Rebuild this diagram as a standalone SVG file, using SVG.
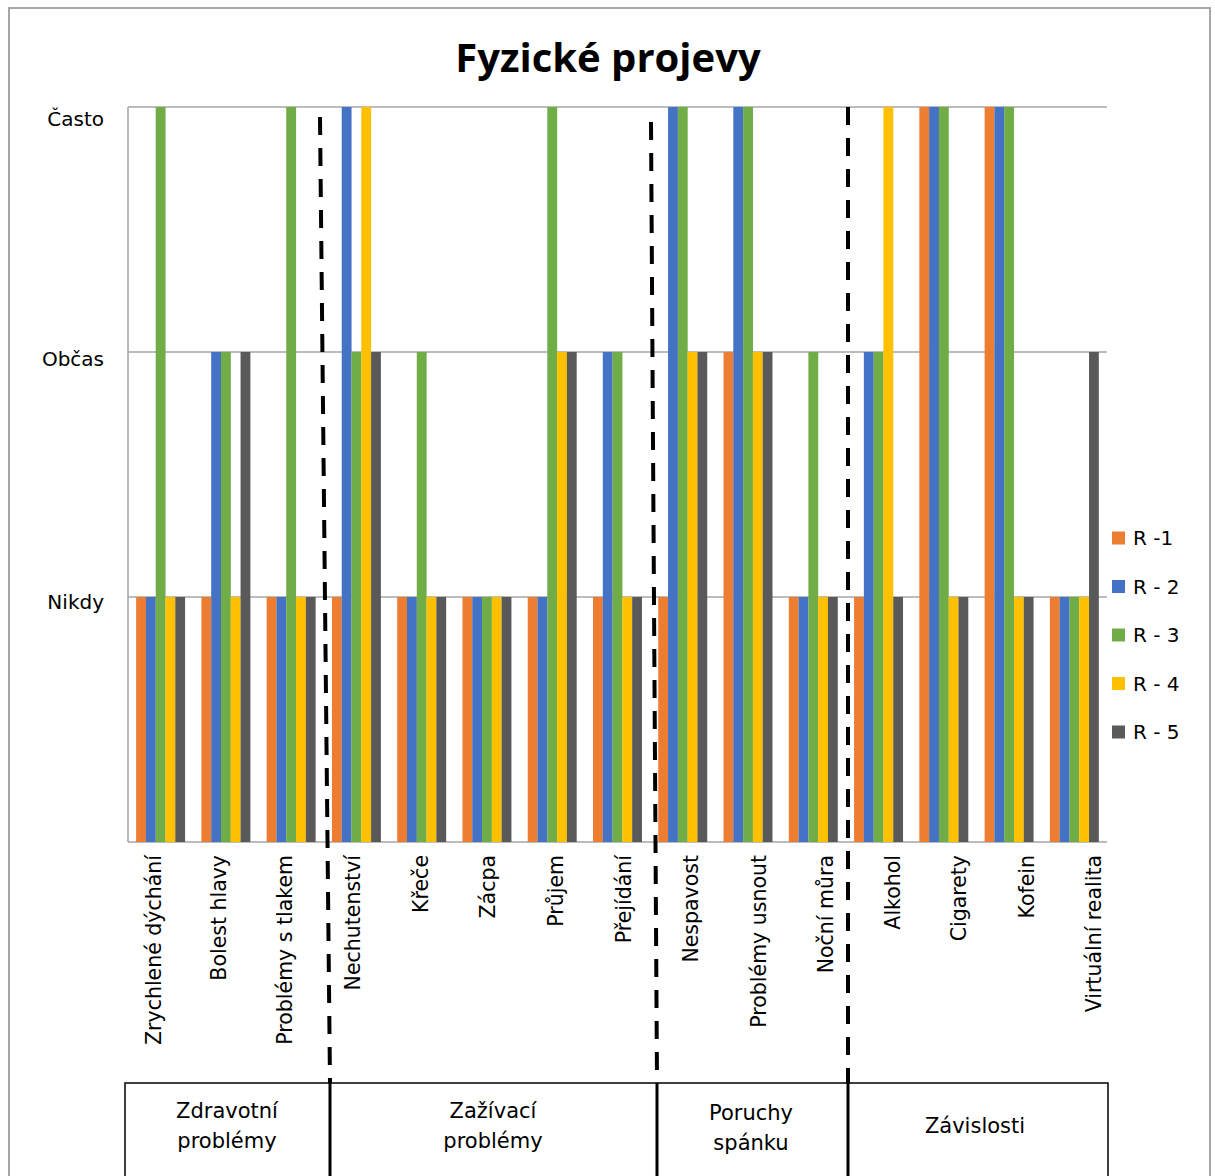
<svg xmlns="http://www.w3.org/2000/svg" width="1215" height="1176" viewBox="0 0 1215 1176">
  <style>
    .frame { fill: #ffffff; stroke: #a6a6a6; stroke-width: 2; }
    .grid { stroke: #a6a6a6; stroke-width: 1.6; fill: none; }
    .title { font-family: "Open Sans", "DejaVu Sans", sans-serif; font-weight: bold; font-size: 40px; fill: #000; }
    .lbl { font-family: "DejaVu Sans", "Liberation Sans", sans-serif; font-size: 20px; fill: #000; }
    .ylbl { font-family: "DejaVu Sans", "Liberation Sans", sans-serif; font-size: 20px; fill: #000; text-anchor: end; }
    .cat { font-family: "DejaVu Sans", "Liberation Sans", sans-serif; font-size: 20.5px; fill: #000; text-anchor: end; }
    .grp { font-family: "DejaVu Sans", "Liberation Sans", sans-serif; font-size: 21px; fill: #000; text-anchor: middle; }
    .r1 { fill: #ED7D31; }
    .r2 { fill: #4472C4; }
    .r3 { fill: #70AD47; }
    .r4 { fill: #FFC000; }
    .r5 { fill: #595959; }
    .sep { stroke: #000; stroke-width: 4; stroke-dasharray: 18 13; fill: none; }
    .box { fill: none; stroke: #000; stroke-width: 1.5; }
    .div { stroke: #000; stroke-width: 3; }
  </style>

  <rect class="frame" x="9" y="8" width="1201" height="1200"/>

  <text id="title" class="title" x="608" y="72" text-anchor="middle">Fyzické projevy</text>

  <!-- value axis labels -->
  <g id="value-axis">
    <text class="ylbl" x="104" y="126">Často</text>
    <text class="ylbl" x="104" y="366">Občas</text>
    <text class="ylbl" x="104" y="609">Nikdy</text>
  </g>

  <!-- gridlines and axes -->
  <g id="gridlines">
    <line class="grid" x1="128" y1="107" x2="1107" y2="107"/>
    <line class="grid" x1="128" y1="352" x2="1107" y2="352"/>
    <line class="grid" x1="128" y1="597" x2="1107" y2="597"/>
    <line class="grid" x1="128" y1="842" x2="1107" y2="842"/>
    <line class="grid" x1="128" y1="107" x2="128" y2="842"/>
  </g>

  <!-- bars: Nikdy = 597, Občas = 352, Často = 107, base 842 -->
  <g id="series-r1" class="r1">
    <rect x="136.13" y="597" width="9.85" height="245"/>
    <rect x="201.40" y="597" width="9.85" height="245"/>
    <rect x="266.66" y="597" width="9.85" height="245"/>
    <rect x="331.93" y="597" width="9.85" height="245"/>
    <rect x="397.20" y="597" width="9.85" height="245"/>
    <rect x="462.47" y="597" width="9.85" height="245"/>
    <rect x="527.73" y="597" width="9.85" height="245"/>
    <rect x="593.00" y="597" width="9.85" height="245"/>
    <rect x="658.27" y="597" width="9.85" height="245"/>
    <rect x="723.53" y="352" width="9.85" height="490"/>
    <rect x="788.80" y="597" width="9.85" height="245"/>
    <rect x="854.07" y="597" width="9.85" height="245"/>
    <rect x="919.33" y="107" width="9.85" height="735"/>
    <rect x="984.60" y="107" width="9.85" height="735"/>
    <rect x="1049.87" y="597" width="9.85" height="245"/>
  </g>
  <g id="series-r2" class="r2">
    <rect x="145.92" y="597" width="9.85" height="245"/>
    <rect x="211.19" y="352" width="9.85" height="490"/>
    <rect x="276.45" y="597" width="9.85" height="245"/>
    <rect x="341.72" y="107" width="9.85" height="735"/>
    <rect x="406.99" y="597" width="9.85" height="245"/>
    <rect x="472.26" y="597" width="9.85" height="245"/>
    <rect x="537.52" y="597" width="9.85" height="245"/>
    <rect x="602.79" y="352" width="9.85" height="490"/>
    <rect x="668.06" y="107" width="9.85" height="735"/>
    <rect x="733.32" y="107" width="9.85" height="735"/>
    <rect x="798.59" y="597" width="9.85" height="245"/>
    <rect x="863.86" y="352" width="9.85" height="490"/>
    <rect x="929.12" y="107" width="9.85" height="735"/>
    <rect x="994.39" y="107" width="9.85" height="735"/>
    <rect x="1059.66" y="597" width="9.85" height="245"/>
  </g>
  <g id="series-r3" class="r3">
    <rect x="155.71" y="107" width="9.85" height="735"/>
    <rect x="220.98" y="352" width="9.85" height="490"/>
    <rect x="286.24" y="107" width="9.85" height="735"/>
    <rect x="351.51" y="352" width="9.85" height="490"/>
    <rect x="416.78" y="352" width="9.85" height="490"/>
    <rect x="482.05" y="597" width="9.85" height="245"/>
    <rect x="547.31" y="107" width="9.85" height="735"/>
    <rect x="612.58" y="352" width="9.85" height="490"/>
    <rect x="677.85" y="107" width="9.85" height="735"/>
    <rect x="743.11" y="107" width="9.85" height="735"/>
    <rect x="808.38" y="352" width="9.85" height="490"/>
    <rect x="873.65" y="352" width="9.85" height="490"/>
    <rect x="938.91" y="107" width="9.85" height="735"/>
    <rect x="1004.18" y="107" width="9.85" height="735"/>
    <rect x="1069.45" y="597" width="9.85" height="245"/>
  </g>
  <g id="series-r4" class="r4">
    <rect x="165.50" y="597" width="9.85" height="245"/>
    <rect x="230.77" y="597" width="9.85" height="245"/>
    <rect x="296.03" y="597" width="9.85" height="245"/>
    <rect x="361.30" y="107" width="9.85" height="735"/>
    <rect x="426.57" y="597" width="9.85" height="245"/>
    <rect x="491.84" y="597" width="9.85" height="245"/>
    <rect x="557.10" y="352" width="9.85" height="490"/>
    <rect x="622.37" y="597" width="9.85" height="245"/>
    <rect x="687.64" y="352" width="9.85" height="490"/>
    <rect x="752.90" y="352" width="9.85" height="490"/>
    <rect x="818.17" y="597" width="9.85" height="245"/>
    <rect x="883.44" y="107" width="9.85" height="735"/>
    <rect x="948.70" y="597" width="9.85" height="245"/>
    <rect x="1013.97" y="597" width="9.85" height="245"/>
    <rect x="1079.24" y="597" width="9.85" height="245"/>
  </g>
  <g id="series-r5" class="r5">
    <rect x="175.29" y="597" width="9.8" height="245"/>
    <rect x="240.56" y="352" width="9.8" height="490"/>
    <rect x="305.82" y="597" width="9.8" height="245"/>
    <rect x="371.09" y="352" width="9.8" height="490"/>
    <rect x="436.36" y="597" width="9.8" height="245"/>
    <rect x="501.63" y="597" width="9.8" height="245"/>
    <rect x="566.89" y="352" width="9.8" height="490"/>
    <rect x="632.16" y="597" width="9.8" height="245"/>
    <rect x="697.43" y="352" width="9.8" height="490"/>
    <rect x="762.69" y="352" width="9.8" height="490"/>
    <rect x="827.96" y="597" width="9.8" height="245"/>
    <rect x="893.23" y="597" width="9.8" height="245"/>
    <rect x="958.49" y="597" width="9.8" height="245"/>
    <rect x="1023.76" y="597" width="9.8" height="245"/>
    <rect x="1089.03" y="352" width="9.8" height="490"/>
  </g>

  <!-- category labels, rotated, reading upwards -->
  <g id="category-labels">
    <text class="cat" transform="translate(161 855) rotate(-90)">Zrychlené dýchání</text>
    <text class="cat" transform="translate(226 855) rotate(-90)">Bolest hlavy</text>
    <text class="cat" transform="translate(292 855) rotate(-90)">Problémy s tlakem</text>
    <text class="cat" transform="translate(360 855) rotate(-90)">Nechutenství</text>
    <text class="cat" transform="translate(428 855) rotate(-90)">Křeče</text>
    <text class="cat" transform="translate(495 855) rotate(-90)">Zácpa</text>
    <text class="cat" transform="translate(563 855) rotate(-90)">Průjem</text>
    <text class="cat" transform="translate(631 855) rotate(-90)">Přejídání</text>
    <text class="cat" transform="translate(698 855) rotate(-90)">Nespavost</text>
    <text class="cat" transform="translate(766 855) rotate(-90)">Problémy usnout</text>
    <text class="cat" transform="translate(833 855) rotate(-90)">Noční můra</text>
    <text class="cat" transform="translate(900 855) rotate(-90)">Alkohol</text>
    <text class="cat" transform="translate(966 855) rotate(-90)">Cigarety</text>
    <text class="cat" transform="translate(1034 855) rotate(-90)">Kofein</text>
    <text class="cat" transform="translate(1101 855) rotate(-90)">Virtuální realita</text>
  </g>

  <!-- legend -->
  <g id="legend">
    <rect class="r1" x="1112" y="531.5" width="13" height="13"/>
    <text class="lbl" x="1133" y="545">R -1</text>
    <rect class="r2" x="1112" y="580" width="13" height="13"/>
    <text class="lbl" x="1133" y="593.5">R - 2</text>
    <rect class="r3" x="1112" y="628.5" width="13" height="13"/>
    <text class="lbl" x="1133" y="642">R - 3</text>
    <rect class="r4" x="1112" y="677" width="13" height="13"/>
    <text class="lbl" x="1133" y="690.5">R - 4</text>
    <rect class="r5" x="1112" y="725.5" width="13" height="13"/>
    <text class="lbl" x="1133" y="739">R - 5</text>
  </g>

  <!-- dashed separators between groups of categories -->
  <g id="separators">
    <line class="sep" x1="320" y1="117" x2="330" y2="1083"/>
    <line class="sep" x1="651" y1="122" x2="657" y2="1083"/>
    <line class="sep" x1="848" y1="107" x2="848" y2="1083"/>
  </g>

  <!-- group table under the axis -->
  <g id="group-table">
    <rect class="box" x="125" y="1083" width="983" height="140"/>
    <line class="div" x1="330" y1="1083" x2="330" y2="1176"/>
    <line class="div" x1="657" y1="1083" x2="657" y2="1176"/>
    <line class="div" x1="848" y1="1083" x2="848" y2="1176"/>
  </g>
  <g id="group-zdravotni">
    <text class="grp" x="227" y="1118">Zdravotní</text>
    <text class="grp" x="227" y="1148">problémy</text>
  </g>
  <g id="group-zazivaci">
    <text class="grp" x="493" y="1118">Zažívací</text>
    <text class="grp" x="493" y="1148">problémy</text>
  </g>
  <g id="group-spanek">
    <text class="grp" x="751" y="1120">Poruchy</text>
    <text class="grp" x="751" y="1150">spánku</text>
  </g>
  <g id="group-zavislosti">
    <text class="grp" x="975" y="1133">Závislosti</text>
  </g>
</svg>
